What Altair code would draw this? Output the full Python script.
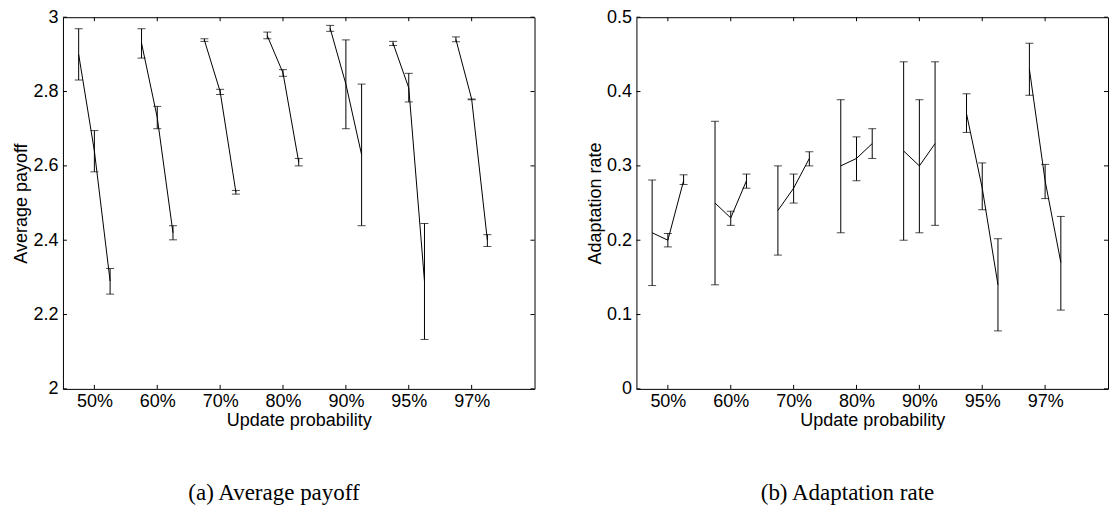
import altair as alt
import pandas as pd

# Update-probability groups on the x axis
groups = ["50%", "60%", "70%", "80%", "90%", "95%", "97%"]
# three runs per group, drawn side by side around the group tick
run_offsets = [-0.25, 0.0, 0.25]

# (a) Average payoff: mean and error-bar limits per group (3 runs each)
payoff_mean = [[2.90, 2.64, 2.29], [2.93, 2.73, 2.42], [2.938, 2.80, 2.53],
               [2.95, 2.85, 2.61], [2.97, 2.82, 2.63], [2.93, 2.81, 2.29],
               [2.94, 2.78, 2.40]]
payoff_low = [[2.831, 2.584, 2.255], [2.890, 2.700, 2.401], [2.935, 2.792, 2.524],
              [2.942, 2.841, 2.600], [2.962, 2.700, 2.439], [2.924, 2.772, 2.133],
              [2.934, 2.778, 2.383]]
payoff_high = [[2.969, 2.695, 2.324], [2.969, 2.760, 2.439], [2.942, 2.806, 2.534],
               [2.960, 2.859, 2.620], [2.978, 2.939, 2.820], [2.935, 2.849, 2.445],
               [2.947, 2.780, 2.415]]

# (b) Adaptation rate
adapt_mean = [[0.21, 0.20, 0.28], [0.25, 0.23, 0.28], [0.24, 0.27, 0.31],
              [0.30, 0.31, 0.33], [0.32, 0.30, 0.33], [0.37, 0.27, 0.14],
              [0.43, 0.28, 0.17]]
adapt_low = [[0.139, 0.191, 0.275], [0.140, 0.220, 0.270], [0.180, 0.250, 0.300],
             [0.210, 0.280, 0.310], [0.200, 0.210, 0.220], [0.345, 0.241, 0.078],
             [0.395, 0.256, 0.106]]
adapt_high = [[0.281, 0.209, 0.288], [0.360, 0.239, 0.289], [0.300, 0.289, 0.319],
              [0.389, 0.339, 0.350], [0.440, 0.389, 0.440], [0.397, 0.304, 0.202],
              [0.465, 0.302, 0.232]]

payoff_ticks = [2.0, 2.2, 2.4, 2.6, 2.8, 3.0]
adapt_ticks = [0.0, 0.1, 0.2, 0.3, 0.4, 0.5]

W, H = 472, 372
TICK = 4
label_expr = "[" + ",".join(f"'{g}'" for g in groups) + "][datum.value - 1]"


def build_frame(mean, low, high):
    rows = []
    for gi, (m3, l3, h3) in enumerate(zip(mean, low, high)):
        for off, m, lo, hi in zip(run_offsets, m3, l3, h3):
            rows.append({"group": gi + 1, "pos": gi + 1 + off,
                         "mean": m, "lo": lo, "hi": hi})
    return pd.DataFrame(rows)


def panel(mean, low, high, yticks, ytitle, caption):
    df = build_frame(mean, low, high)
    xticks_df = pd.DataFrame({"pos": list(range(1, len(groups) + 1))})
    yticks_df = pd.DataFrame({"mean": yticks})

    x_enc = alt.X(
        "pos:Q",
        scale=alt.Scale(domain=[0.5, len(groups) + 1], nice=False, zero=False),
        axis=alt.Axis(values=list(range(1, len(groups) + 1)), labelExpr=label_expr,
                      ticks=False, domain=False, grid=False,
                      title="Update probability", labelPadding=4, titlePadding=1),
    )
    y_enc = alt.Y(
        "mean:Q",
        scale=alt.Scale(domain=[yticks[0], yticks[-1]], nice=False, zero=False),
        axis=alt.Axis(values=yticks, format="~g", ticks=False, domain=False,
                      grid=False, title=ytitle, labelPadding=5, titlePadding=2),
    )

    base = alt.Chart(df)
    line = base.mark_line(color="black", strokeWidth=1).encode(
        x=x_enc, y=y_enc, detail="group:N", order="pos:Q")
    bars = base.mark_rule(color="black", strokeWidth=1).encode(
        x=x_enc, y=alt.Y("lo:Q"), y2="hi:Q")
    cap_hi = base.mark_tick(color="black", orient="horizontal", size=8,
                            thickness=1).encode(x=x_enc, y=alt.Y("hi:Q"))
    cap_lo = base.mark_tick(color="black", orient="horizontal", size=8,
                            thickness=1).encode(x=x_enc, y=alt.Y("lo:Q"))

    # inward-pointing tick marks on all four sides of the box
    xt = alt.Chart(xticks_df)
    xt_bottom = xt.mark_rule(color="black", strokeWidth=1).encode(
        x=x_enc, y=alt.value(H - TICK), y2=alt.value(H))
    xt_top = xt.mark_rule(color="black", strokeWidth=1).encode(
        x=x_enc, y=alt.value(0), y2=alt.value(TICK))
    yt = alt.Chart(yticks_df)
    yt_left = yt.mark_rule(color="black", strokeWidth=1).encode(
        y=y_enc, x=alt.value(0), x2=alt.value(TICK))
    yt_right = yt.mark_rule(color="black", strokeWidth=1).encode(
        y=y_enc, x=alt.value(W - TICK), x2=alt.value(W))

    return alt.layer(
        line, bars, cap_hi, cap_lo, xt_bottom, xt_top, yt_left, yt_right
    ).properties(
        width=W, height=H,
        title=alt.TitleParams(caption, orient="bottom", anchor="middle",
                              frame="bounds", font="Liberation Serif",
                              fontSize=23, fontWeight="normal", color="black",
                              offset=52),
    )


left = panel(payoff_mean, payoff_low, payoff_high, payoff_ticks,
             "Average payoff", "(a) Average payoff")
right = panel(adapt_mean, adapt_low, adapt_high, adapt_ticks,
              "Adaptation rate", "(b) Adaptation rate")

chart = alt.hconcat(left, right, spacing=50).properties(
    padding={"left": 12, "top": 7, "right": 0, "bottom": 0},
    background="white",
).configure_view(
    stroke="black", strokeWidth=1
).configure_axis(
    labelFont="Liberation Sans", labelFontSize=18, labelColor="black",
    titleFont="Liberation Sans", titleFontSize=18, titleColor="black",
    titleFontWeight="normal",
)

chart.save("out.html", embed_options={"renderer": "svg", "actions": False})
